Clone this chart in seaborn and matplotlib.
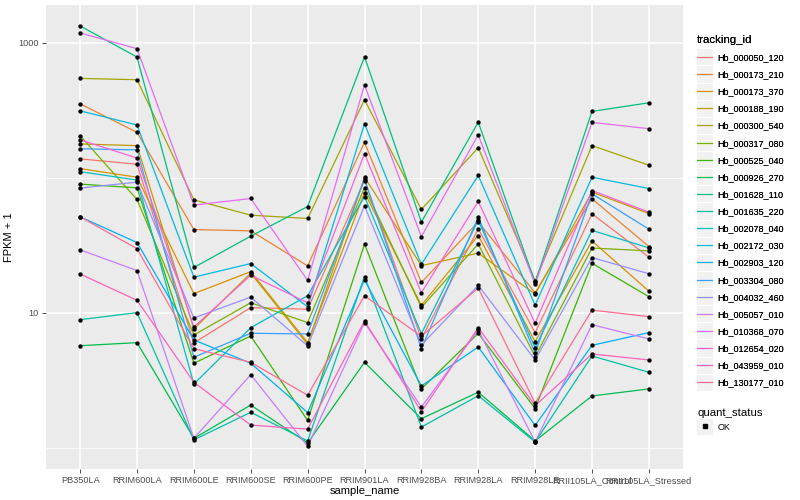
import matplotlib
matplotlib.use("Agg")
import matplotlib.pyplot as plt
import seaborn as sns
import pandas as pd
from matplotlib.lines import Line2D
from matplotlib.patches import Rectangle
from matplotlib.legend_handler import HandlerBase
from matplotlib.ticker import NullFormatter

samples = ["PB350LA", "RRIM600LA", "RRIM600LE", "RRIM600SE", "RRIM600PE",
           "RRIM901LA", "RRIM928BA", "RRIM928LA", "RRIM928LE",
           "RRII105LA_Control", "RRII105LA_Stressed"]

# FPKM + 1 per sample
hb_000050_120 = [138, 126, 6.0, 10.95, 10.65, 95.5, 6.45, 41.9, 7.15, 54.1, 25.9]
hb_000173_210 = [353, 217, 41.4, 40.5, 22.3, 183, 16.8, 47.2, 14.1, 69.9, 31.0]
hb_000173_370 = [117, 101, 13.9, 20.2, 6.03, 77.8, 11.4, 37.4, 6.13, 34.1, 14.5]
hb_000188_190 = [178, 173, 7.61, 19.7, 5.86, 101, 22.4, 27.7, 13.8, 78.4, 54.4]
hb_000300_540 = [544, 532, 68.7, 52.9, 50.0, 378, 58.3, 167, 17.3, 173, 124]
hb_000317_080 = [205, 69.1, 6.87, 11.9, 8.48, 84.3, 11.0, 32.4, 4.75, 30.2, 28.8]
hb_000525_040 = [89.8, 84.3, 4.24, 6.75, 1.60, 32.3, 2.74, 7.07, 1.96, 23.3, 13.2]
hb_000926_270 = [5.72, 6.03, 1.18, 2.08, 1.09, 4.31, 1.65, 2.59, 1.13, 2.43, 2.74]
hb_001628_110 = [1330, 783, 21.7, 37.0, 61.3, 787, 47.0, 258, 16.8, 310, 359]
hb_001635_220 = [8.92, 10.05, 1.15, 1.84, 1.13, 18.6, 1.43, 2.44, 1.11, 4.80, 3.64]
hb_002078_040 = [111, 96.2, 2.98, 7.78, 13.4, 72.7, 7.03, 48.4, 5.53, 40.8, 30.3]
hb_002172_030 = [313, 246, 18.4, 23.2, 11.1, 251, 22.9, 104, 11.4, 101, 83.3]
hb_002903_120 = [51.4, 33.2, 6.31, 4.24, 1.83, 17.6, 2.88, 5.60, 1.47, 5.76, 7.15]
hb_003304_080 = [164, 161, 4.70, 7.07, 6.99, 98.3, 5.44, 51.2, 5.03, 76.1, 41.7]
hb_004032_460 = [83.9, 92.9, 9.18, 13.1, 5.70, 62.0, 5.79, 16.0, 4.49, 25.7, 19.5]
hb_005057_010 = [29.3, 20.6, 1.18, 3.49, 1.03, 8.48, 2.01, 7.48, 1.11, 8.19, 6.42]
hb_010368_070 = [1180, 903, 62.8, 70.3, 17.4, 486, 36.7, 208, 16.3, 257, 231]
hb_012654_020 = [191, 140, 7.88, 19.0, 11.9, 151, 14.1, 66.8, 8.39, 80.5, 55.7]
hb_043959_010 = [19.4, 12.4, 3.07, 1.48, 1.38, 8.72, 1.86, 7.78, 2.06, 4.97, 4.49]
hb_130177_010 = [51.4, 29.9, 5.44, 4.31, 2.46, 13.4, 6.72, 15.3, 2.15, 10.5, 9.39]

tracking_ids = ["Hb_000050_120", "Hb_000173_210", "Hb_000173_370", "Hb_000188_190",
                "Hb_000300_540", "Hb_000317_080", "Hb_000525_040", "Hb_000926_270",
                "Hb_001628_110", "Hb_001635_220", "Hb_002078_040", "Hb_002172_030",
                "Hb_002903_120", "Hb_003304_080", "Hb_004032_460", "Hb_005057_010",
                "Hb_010368_070", "Hb_012654_020", "Hb_043959_010", "Hb_130177_010"]
series = [hb_000050_120, hb_000173_210, hb_000173_370, hb_000188_190,
          hb_000300_540, hb_000317_080, hb_000525_040, hb_000926_270,
          hb_001628_110, hb_001635_220, hb_002078_040, hb_002172_030,
          hb_002903_120, hb_003304_080, hb_004032_460, hb_005057_010,
          hb_010368_070, hb_012654_020, hb_043959_010, hb_130177_010]

# ggplot2 default hue palette for 20 levels
colors = ["#F8766D", "#EA8331", "#D89000", "#C09B00", "#A3A500", "#7CAE00",
          "#39B600", "#00BB4E", "#00BF7D", "#00C1A3", "#00BFC4", "#00BAE0",
          "#00B0F6", "#35A2FF", "#9590FF", "#C77CFF", "#E76BF3", "#FA62DB",
          "#FF62BC", "#FF6C91"]

rows = []
for tid, vals in zip(tracking_ids, series):
    for s, v in zip(samples, vals):
        rows.append({"tracking_id": tid, "sample_name": s, "fpkm": v})
df = pd.DataFrame(rows)

plt.rcParams["font.family"] = ["Liberation Sans", "DejaVu Sans"]

fig = plt.figure(figsize=(8, 5), dpi=100)
ax = fig.add_axes([46 / 800, 1 - 469 / 500, 637 / 800, 464 / 500])
ax.set_facecolor("#EBEBEB")
ax.set_yscale("log")

sns.lineplot(data=df, x="sample_name", y="fpkm", hue="tracking_id",
             palette=colors, hue_order=tracking_ids, estimator=None,
             sort=False, lw=0.9, legend=False, ax=ax)
sns.scatterplot(data=df, x="sample_name", y="fpkm", color="black", s=10,
                linewidth=0, legend=False, ax=ax, zorder=3)

ax.set_xlim(-0.6, 10.6)
ax.set_ylim(0.70, 1900)
ax.set_yticks([10, 1000])
ax.set_yticklabels(["10", "1000"])
ax.set_yticks([1, 100], minor=True)
ax.yaxis.set_minor_formatter(NullFormatter())
ax.tick_params(axis="y", which="minor", length=0)
ax.tick_params(which="major", length=3, width=0.6, color="#333333",
               labelcolor="#4D4D4D", labelsize=6.6, pad=2)
ax.grid(which="major", color="white", lw=1.1)
ax.grid(which="minor", axis="y", color="white", lw=0.55)
ax.set_axisbelow(True)
for sp in ax.spines.values():
    sp.set_visible(False)
ax.set_xlabel("sample_name", fontsize=8, labelpad=1)
ax.set_ylabel("FPKM + 1", fontsize=8, labelpad=3)


class KeyHandler(HandlerBase):
    def __init__(self, kind):
        super().__init__()
        self.kind = kind

    def create_artists(self, legend, orig, xd, yd, w, h, fontsize, trans):
        cx, cy = -xd + w / 2, -yd + h / 2
        bg = Rectangle((cx - 6.2, cy - 6.2), 12.4, 12.4, facecolor="#F2F2F2",
                       edgecolor="white", lw=0.8, transform=trans)
        if self.kind == "line":
            mk = Line2D([cx - 5.2, cx + 5.2], [cy, cy], color=orig.get_color(),
                        lw=0.9, transform=trans)
        else:
            mk = Line2D([cx], [cy], marker="s", ms=2.6, color="black",
                        ls="none", transform=trans)
        return [bg, mk]


line_handles = [Line2D([], [], color=c) for c in colors]
leg1 = fig.legend(line_handles, tracking_ids, title="tracking_id",
                  loc="upper left", bbox_to_anchor=(697 / 800, 1 - 35 / 500),
                  frameon=False, fontsize=6.5, title_fontsize=8.2,
                  handlelength=1.7, handletextpad=0.55, labelspacing=0.9,
                  borderpad=0, borderaxespad=0, alignment="left",
                  handler_map={Line2D: KeyHandler("line")})
pt = Line2D([], [], marker="s", color="black", ls="none")
leg2 = fig.legend([pt], ["OK"], title="quant_status",
                  loc="upper left", bbox_to_anchor=(697 / 800, 1 - 408 / 500),
                  frameon=False, fontsize=6.5, title_fontsize=8.2,
                  handlelength=1.7, handletextpad=0.55, borderpad=0,
                  borderaxespad=0, alignment="left",
                  handler_map={Line2D: KeyHandler("point")})
fig.add_artist(leg1)

fig.savefig("out.png", dpi=100)
